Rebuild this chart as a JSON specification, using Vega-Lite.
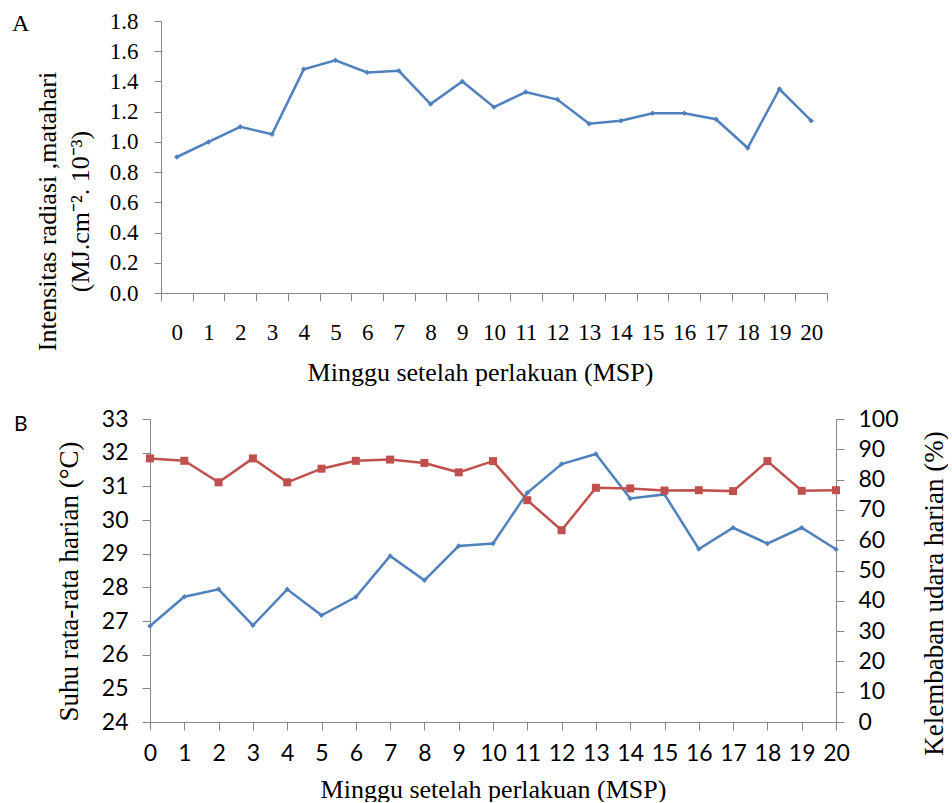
{
  "$schema": "https://vega.github.io/schema/vega-lite/v6.json",
  "background": "white",
  "padding": {"left": 12, "top": 10, "right": 0, "bottom": 0},
  "config": {
    "view": {"stroke": null},
    "axis": {
      "domainColor": "#868686",
      "tickColor": "#868686",
      "grid": false,
      "labelColor": "black",
      "titleColor": "black",
      "titleFontWeight": "normal",
      "tickSize": 8
    }
  },
  "datasets": {
    "weekly": [
      {"week": 0, "rad": 0.90, "temp": 26.85, "rh": 87.0},
      {"week": 1, "rad": 1.00, "temp": 27.72, "rh": 86.2},
      {"week": 2, "rad": 1.10, "temp": 27.94, "rh": 79.1},
      {"week": 3, "rad": 1.05, "temp": 26.87, "rh": 87.0},
      {"week": 4, "rad": 1.48, "temp": 27.94, "rh": 79.1},
      {"week": 5, "rad": 1.54, "temp": 27.17, "rh": 83.6},
      {"week": 6, "rad": 1.46, "temp": 27.71, "rh": 86.2},
      {"week": 7, "rad": 1.47, "temp": 28.93, "rh": 86.6},
      {"week": 8, "rad": 1.25, "temp": 28.21, "rh": 85.5},
      {"week": 9, "rad": 1.40, "temp": 29.23, "rh": 82.4},
      {"week": 10, "rad": 1.23, "temp": 29.30, "rh": 86.1},
      {"week": 11, "rad": 1.33, "temp": 30.81, "rh": 73.2},
      {"week": 12, "rad": 1.28, "temp": 31.66, "rh": 63.3},
      {"week": 13, "rad": 1.12, "temp": 31.96, "rh": 77.3},
      {"week": 14, "rad": 1.14, "temp": 30.64, "rh": 77.1},
      {"week": 15, "rad": 1.19, "temp": 30.76, "rh": 76.4},
      {"week": 16, "rad": 1.19, "temp": 29.14, "rh": 76.5},
      {"week": 17, "rad": 1.15, "temp": 29.77, "rh": 76.2},
      {"week": 18, "rad": 0.96, "temp": 29.30, "rh": 86.1},
      {"week": 19, "rad": 1.35, "temp": 29.77, "rh": 76.3},
      {"week": 20, "rad": 1.14, "temp": 29.13, "rh": 76.5}
    ]
  },
  "spacing": 23,
  "vconcat": [
    {
      "width": 677,
      "height": 272,
      "title": {"text": "A", "anchor": "start", "frame": "group", "orient": "none", "baseline": "top", "offset": 0, "dx": -138, "dy": -9, "font": "Liberation Serif", "fontSize": 24, "fontWeight": "normal", "color": "black"},
      "data": {"name": "weekly"},
      "mark": {"type": "line", "color": "#4F81BD", "strokeWidth": 2.5, "point": {"shape": "diamond", "size": 30, "filled": true, "color": "#4F81BD"}},
      "encoding": {
        "x": {
          "field": "week", "type": "ordinal",
          "scale": {"type": "band", "range": [11, 677], "paddingInner": 0, "paddingOuter": 0},
          "axis": {"title": "Minggu setelah perlakuan (MSP)", "labelAngle": 0, "tickBand": "extent", "labelFont": "Liberation Serif", "labelFontSize": 23, "labelPadding": 20, "titleFont": "Liberation Serif", "titleFontSize": 26, "titlePadding": 15, "titleX": 330}
        },
        "y": {
          "field": "rad", "type": "quantitative",
          "scale": {"domain": [0, 1.8]},
          "axis": {"values": [0, 0.2, 0.4, 0.6, 0.8, 1.0, 1.2, 1.4, 1.6, 1.8], "format": ".1f", "offset": -11, "tickSize": 7, "labelFont": "Liberation Serif", "labelFontSize": 23, "labelPadding": 16, "title": ["Intensitas radiasi ,matahari", "(MJ.cm⁻². 10⁻³)"], "titleFont": "Liberation Serif", "titleFontSize": 26, "titleLineHeight": 33, "titlePadding": 16, "titleY": 190}
        }
      }
    },
    {
      "width": 686,
      "height": 303,
      "title": {"text": "B", "anchor": "start", "frame": "group", "orient": "none", "baseline": "top", "offset": 0, "dx": -136, "dy": -5, "font": "Lato", "fontSize": 21, "fontWeight": "normal", "color": "black"},
      "data": {"name": "weekly"},
      "encoding": {
        "x": {
          "field": "week", "type": "quantitative",
          "scale": {"domain": [0, 20], "nice": false, "zero": false},
          "axis": {"values": [0, 1, 2, 3, 4, 5, 6, 7, 8, 9, 10, 11, 12, 13, 14, 15, 16, 17, 18, 19, 20], "title": "Minggu setelah perlakuan (MSP)", "labelFont": "Lato", "labelFontSize": 23, "labelPadding": 12, "labelFlush": false, "labelOverlap": false, "titleFont": "Liberation Serif", "titleFontSize": 26, "titlePadding": 11}
        }
      },
      "layer": [
        {
          "mark": {"type": "line", "color": "#4F81BD", "strokeWidth": 2.5, "point": {"shape": "diamond", "size": 30, "filled": true, "color": "#4F81BD"}},
          "encoding": {
            "y": {
              "field": "temp", "type": "quantitative",
              "scale": {"domain": [24, 33], "nice": false, "zero": false},
              "axis": {"values": [24, 25, 26, 27, 28, 29, 30, 31, 32, 33], "labelFont": "Lato", "labelFontSize": 23, "labelPadding": 14, "title": "Suhu rata-rata harian (°C)", "titleFont": "Liberation Serif", "titleFontSize": 27, "titlePadding": 18, "titleY": 162}
            }
          }
        },
        {
          "mark": {"type": "line", "color": "#C0504D", "strokeWidth": 2.5, "point": {"shape": "square", "size": 64, "filled": true, "color": "#C0504D"}},
          "encoding": {
            "y": {
              "field": "rh", "type": "quantitative",
              "scale": {"domain": [0, 100], "nice": false},
              "axis": {"orient": "right", "values": [0, 10, 20, 30, 40, 50, 60, 70, 80, 90, 100], "labelFont": "Lato", "labelFontSize": 23, "labelPadding": 14, "title": "Kelembaban udara harian (%)", "titleFont": "Liberation Serif", "titleFontSize": 27, "titleAngle": -90, "titlePadding": 50, "titleY": 174}
            }
          }
        }
      ],
      "resolve": {"scale": {"y": "independent"}}
    }
  ]
}
